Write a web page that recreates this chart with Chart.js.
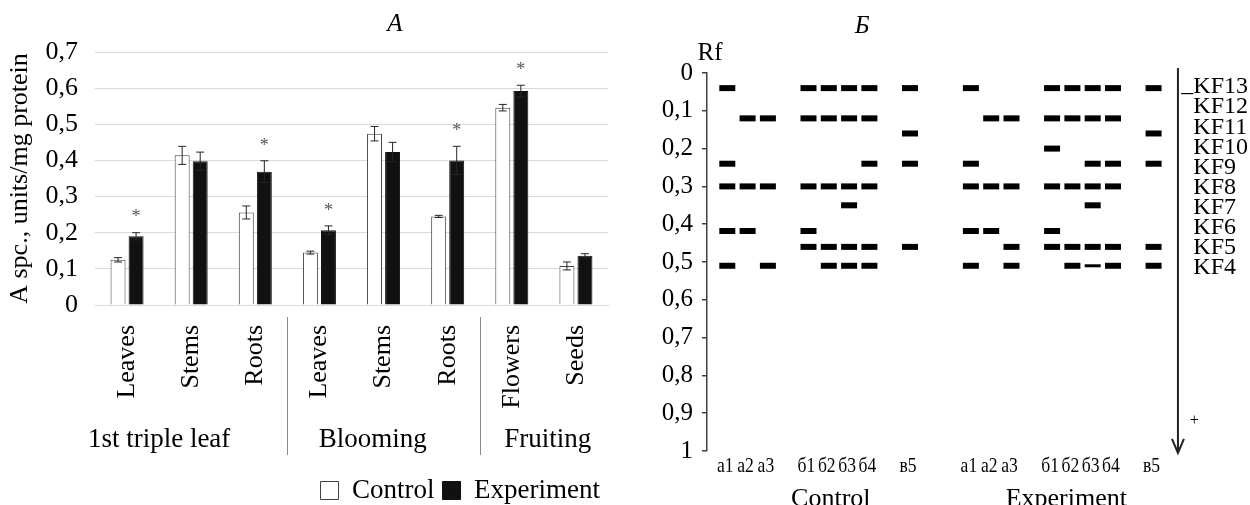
<!DOCTYPE html>
<html>
<head>
<meta charset="utf-8">
<script src="https://cdn.jsdelivr.net/npm/chart.js"></script>
<style>
  body { margin: 0; background: #fff; overflow: hidden; }
  #wrap { position: relative; width: 1250px; height: 505px; }
  .panel { position: absolute; top: 0; height: 505px; }
  #left { left: 0; width: 640px; }
  #right { left: 640px; width: 610px; }
</style>
</head>
<body>
<div id="wrap">
  <div class="panel" id="left"><canvas id="chartA"></canvas></div>
  <div class="panel" id="right"><canvas id="chartB"></canvas></div>
</div>
<script>
const SERIF = '"Liberation Serif", "Times New Roman", serif';

// panel A - specific activity
const organs = ["Leaves", "Stems", "Roots", "Leaves", "Stems", "Roots", "Flowers", "Seeds"];
const stages = ["1st triple leaf", "Blooming", "Fruiting"];
const stageSizes = [3, 3, 2];
const control = [0.125, 0.414, 0.256, 0.145, 0.474, 0.245, 0.546, 0.108];
const controlErr = [0.006, 0.025, 0.018, 0.004, 0.02, 0.003, 0.009, 0.011];
const experiment = [0.19, 0.398, 0.369, 0.207, 0.423, 0.40, 0.592, 0.136];
const experimentErr = [0.01, 0.025, 0.03, 0.012, 0.027, 0.039, 0.016, 0.006];
const significant = [true, false, true, true, false, true, true, false];

// panel Б - zymogram
const groupsB = ["Control", "Experiment"];
const lanes = ["а1", "а2", "а3", "б1", "б2", "б3", "б4", "в5"];
const isoforms = ["KF13", "KF12", "KF11", "KF10", "KF9", "KF8", "KF7", "KF6", "KF5", "KF4"];
const isoformRf = [0.04, 0.12, 0.16, 0.20, 0.24, 0.30, 0.35, 0.418, 0.46, 0.51];
// isoform numbers found in each lane
const controlBands = [[13, 9, 8, 6, 4], [12, 8, 6], [12, 8, 4], [13, 12, 8, 6, 5],
  [13, 12, 8, 5, 4], [13, 12, 8, 7, 5, 4], [13, 12, 9, 8, 5, 4], [13, 11, 9, 5]];
const experimentBands = [[13, 9, 8, 6, 4], [12, 8, 6], [12, 8, 5, 4], [13, 12, 10, 8, 6, 5],
  [13, 12, 8, 5, 4], [13, 12, 9, 8, 7, 5], [13, 12, 9, 8, 5, 4], [13, 11, 9, 5, 4]];
const experimentFaint = [[], [], [], [], [], [4], [], []];

const fmt = v => (Math.abs(v) < 1e-9 ? "0" : Math.abs(v - 1) < 1e-9 ? "1" : v.toFixed(1).replace(".", ","));

// ---------- panel A ----------
const stageAt = [0.5, 3.83, 6.56];

const panelADecor = {
  id: "panelADecor",
  afterDatasetsDraw(chart) {
    const { ctx, scales: { y } } = chart;
    ctx.save();
    ctx.strokeStyle = "#262626";
    ctx.lineWidth = 1;
    [controlErr, experimentErr].forEach((errs, i) => {
      const vals = chart.data.datasets[i].data;
      chart.getDatasetMeta(i).data.forEach((bar, j) => {
        const top = y.getPixelForValue(vals[j] + errs[j]);
        const bot = y.getPixelForValue(vals[j] - errs[j]);
        ctx.beginPath();
        ctx.moveTo(bar.x, top); ctx.lineTo(bar.x, bot);
        ctx.moveTo(bar.x - 4, top); ctx.lineTo(bar.x + 4, top);
        ctx.moveTo(bar.x - 4, bot); ctx.lineTo(bar.x + 4, bot);
        ctx.stroke();
        if (i === 1 && significant[j]) {
          ctx.fillStyle = "#555";
          ctx.font = "18px " + SERIF;
          ctx.textAlign = "center";
          ctx.textBaseline = "middle";
          ctx.fillText("*", bar.x, top - 15);
        }
      });
    });
    ctx.restore();
  },
  afterDraw(chart) {
    const { ctx, scales: { x }, chartArea } = chart;
    ctx.save();
    ctx.fillStyle = "#000";
    ctx.textAlign = "center";
    ctx.textBaseline = "middle";
    ctx.font = "italic 25px " + SERIF;
    ctx.fillText("A", 395, 24);

    ctx.font = "27px " + SERIF;
    stages.forEach((s, i) => ctx.fillText(s, x.getPixelForValue(stageAt[i]), 440));

    ctx.strokeStyle = "#8c8c8c";
    ctx.lineWidth = 1;
    let acc = 0;
    stageSizes.slice(0, -1).forEach(n => {
      acc += n;
      const px = Math.round(x.getPixelForValue(acc - 0.5)) + 0.5;
      ctx.beginPath();
      ctx.moveTo(px, chartArea.bottom + 12);
      ctx.lineTo(px, 455);
      ctx.stroke();
    });
    ctx.restore();
  }
};

new Chart(document.getElementById("chartA"), {
  type: "bar",
  data: {
    labels: organs,
    datasets: [
      { label: "Control", data: control, backgroundColor: "#fff", borderColor: "#404040", borderWidth: 1,
        categoryPercentage: 0.5625, barPercentage: 0.83 },
      { label: "Experiment", data: experiment, backgroundColor: "#111", borderColor: "#111", borderWidth: 1,
        categoryPercentage: 0.5625, barPercentage: 0.83 }
    ]
  },
  options: {
    animation: false,
    responsive: true,
    maintainAspectRatio: false,
    events: [],
    layout: { padding: { top: 52, right: 32, left: 0, bottom: -9 } },
    plugins: {
      tooltip: { enabled: false },
      legend: {
        position: "bottom",
        align: "end",
        fullSize: false,
        labels: { boxWidth: 18, boxHeight: 18, padding: 8, color: "#000", font: { family: SERIF, size: 27 } }
      }
    },
    scales: {
      x: {
        grid: { display: false },
        border: { color: "#d9d9d9" },
        ticks: { color: "#000", font: { family: SERIF, size: 26 }, minRotation: 90, maxRotation: 90, padding: 12, autoSkip: false },
        afterFit: s => { s.height = 164; }
      },
      y: {
        min: 0,
        max: 0.7,
        ticks: { stepSize: 0.1, color: "#000", font: { family: SERIF, size: 26 }, padding: 17, callback: fmt },
        grid: { color: "#d9d9d9", drawTicks: false },
        border: { display: false },
        title: { display: true, text: "A spc., units/mg protein", color: "#000", font: { family: SERIF, size: 26 }, padding: { top: 5, bottom: 0 } },
        afterFit: s => { s.width = 95; }
      }
    }
  },
  plugins: [panelADecor]
});

// ---------- panel Б ----------
const groupGap = 12;
const laneSlot = j => {
  let s = j;
  for (let k = 1; k <= j; k++) if (lanes[k][0] !== lanes[k - 1][0]) s++;
  return s;
};

const toPoints = (bandsByGroup) => {
  const pts = [];
  bandsByGroup.forEach((bands, gi) => {
    bands.forEach((list, j) => list.forEach(n => {
      pts.push({ x: gi * groupGap + laneSlot(j), y: isoformRf[isoforms.indexOf("KF" + n)] });
    }));
  });
  return pts;
};

const gelDecor = {
  id: "gelDecor",
  afterDraw(chart) {
    const { ctx, scales: { x, y } } = chart;
    ctx.save();
    ctx.fillStyle = "#000";
    ctx.textAlign = "center";
    ctx.textBaseline = "middle";
    ctx.font = "italic 25px " + SERIF;
    ctx.fillText("Б", 222, 26);
    ctx.font = "25px " + SERIF;
    ctx.fillText("Rf", 70, 53);

    // lane names, narrow type as in the original
    ctx.font = "22px " + SERIF;
    groupsB.forEach((g, gi) => lanes.forEach((l, j) => {
      const px = x.getPixelForValue(gi * groupGap + laneSlot(j)) - 2;
      ctx.save();
      ctx.translate(px, 466);
      ctx.scale(0.8, 1);
      ctx.fillText(l, 0, 0);
      ctx.restore();
    }));

    // isoform names, evenly spaced next to the arrow
    ctx.textAlign = "left";
    ctx.font = "24px " + SERIF;
    const lx = x.getPixelForValue(22.96);
    const y0 = y.getPixelForValue(0.037), y1 = y.getPixelForValue(0.516);
    isoforms.forEach((name, i) => {
      ctx.fillText(name, lx, y0 + (y1 - y0) * i / (isoforms.length - 1));
    });
    ctx.textAlign = "right";
    ctx.fillText("_", lx, y0 - 2);

    // migration arrow
    const ax = x.getPixelForValue(22.2);
    const top = y.getPixelForValue(-0.013), bot = y.getPixelForValue(1.005);
    ctx.strokeStyle = "#222";
    ctx.lineWidth = 2;
    ctx.beginPath();
    ctx.moveTo(ax, top); ctx.lineTo(ax, bot);
    ctx.moveTo(ax - 6, bot - 14); ctx.lineTo(ax, bot); ctx.lineTo(ax + 6, bot - 14);
    ctx.stroke();
    ctx.textAlign = "center";
    ctx.font = "16px " + SERIF;
    ctx.fillText("+", x.getPixelForValue(23.0), y.getPixelForValue(0.92));

    // group names under the lanes
    ctx.font = "26px " + SERIF;
    ctx.textBaseline = "top";
    ctx.fillText(groupsB[0], x.getPixelForValue(5.1), 486);
    ctx.fillText(groupsB[1], x.getPixelForValue(16.7), 486);
    ctx.restore();
  }
};

new Chart(document.getElementById("chartB"), {
  type: "scatter",
  data: {
    datasets: [
      { label: "bands", data: toPoints([controlBands, experimentBands]), borderColor: "#000", backgroundColor: "#000",
        pointStyle: "line", pointRadius: 8, pointBorderWidth: 6 },
      { label: "faint", data: toPoints([[[], [], [], [], [], [], [], []], experimentFaint]), borderColor: "#000", backgroundColor: "#000",
        pointStyle: "line", pointRadius: 8, pointBorderWidth: 3 }
    ]
  },
  options: {
    animation: false,
    responsive: true,
    maintainAspectRatio: false,
    events: [],
    layout: { autoPadding: false, padding: { top: 73, right: 0, left: 0, bottom: 0 } },
    plugins: { legend: { display: false }, tooltip: { enabled: false } },
    scales: {
      x: {
        type: "linear",
        min: -1,
        max: 25.75,
        grid: { display: false },
        border: { display: false },
        ticks: { display: false },
        afterFit: s => { s.height = 54; s.paddingLeft = 0; s.paddingRight = 0; }
      },
      y: {
        reverse: true,
        min: 0,
        max: 1,
        ticks: { stepSize: 0.1, color: "#000", font: { family: SERIF, size: 25 }, padding: 9, callback: fmt },
        grid: { drawOnChartArea: false, tickLength: 5, color: "#404040", lineWidth: 1.5 },
        border: { color: "#404040", width: 1.5 },
        afterFit: s => { s.width = 67; }
      }
    }
  },
  plugins: [gelDecor]
});
</script>
</body>
</html>
